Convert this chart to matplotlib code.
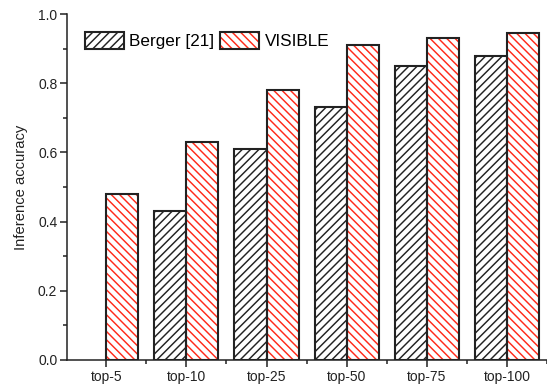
import numpy as np
import matplotlib
matplotlib.use("Agg")
import matplotlib.pyplot as plt
from matplotlib.ticker import MultipleLocator
from matplotlib.legend_handler import HandlerTuple

plt.rcParams['font.family'] = ['Liberation Sans', 'DejaVu Sans']
plt.rcParams['hatch.linewidth'] = 1.05

categories = ['top-5', 'top-10', 'top-25', 'top-50', 'top-75', 'top-100']
berger = [np.nan, 0.43, 0.61, 0.73, 0.85, 0.88]
visible = [0.48, 0.63, 0.78, 0.91, 0.93, 0.945]

x = np.arange(len(categories))
w = 0.4

fig = plt.figure(figsize=(5.47, 3.87), dpi=100)
ax = fig.add_axes([0.1225, 0.0698, 0.8775, 0.894])

# hatch layer first, then the dark outline on top
b_hatch = ax.bar(x - w / 2, berger, w, color='white', edgecolor='#222222',
                 hatch='////', linewidth=0)
v_hatch = ax.bar(x + w / 2, visible, w, color='white', edgecolor='#ff2a1a',
                 hatch='\\\\\\\\', linewidth=0)
b_edge = ax.bar(x - w / 2, berger, w, fill=False, edgecolor='#222222', linewidth=1.5)
v_edge = ax.bar(x + w / 2, visible, w, fill=False, edgecolor='#222222', linewidth=1.5)

ax.set_xlim(-0.49, 5.5)
ax.set_ylim(0, 1.0)
ax.set_xticks(x)
ax.set_xticklabels(categories)
ax.xaxis.set_minor_locator(MultipleLocator(1, offset=0.5))
ax.yaxis.set_major_locator(MultipleLocator(0.2))
ax.yaxis.set_minor_locator(MultipleLocator(0.1))
ax.yaxis.set_major_formatter(matplotlib.ticker.FormatStrFormatter('%.1f'))

for s in ['top', 'right']:
    ax.spines[s].set_visible(False)
for s in ['left', 'bottom']:
    ax.spines[s].set_linewidth(1.1)
    ax.spines[s].set_color('#222222')

ax.tick_params(which='major', length=5, width=1.1, labelsize=10, color='#222222',
               labelcolor='#222222', pad=2)
ax.tick_params(which='minor', length=3, width=1.1, color='#222222')
ax.set_ylabel('Inference accuracy', fontsize=10.6, color='#222222', labelpad=7)

ax.legend([(b_hatch[1], b_edge[1]), (v_hatch[1], v_edge[1])],
          ['Berger [21]', 'VISIBLE'],
          handler_map={tuple: HandlerTuple(ndivide=1, pad=0)},
          ncol=2, frameon=False, fontsize=12.3, loc='upper left',
          bbox_to_anchor=(0.0225, 0.968), handlelength=2.3, handleheight=1.2,
          handletextpad=0.3, columnspacing=0.35, borderaxespad=0)

fig.savefig('out.png', dpi=100)
